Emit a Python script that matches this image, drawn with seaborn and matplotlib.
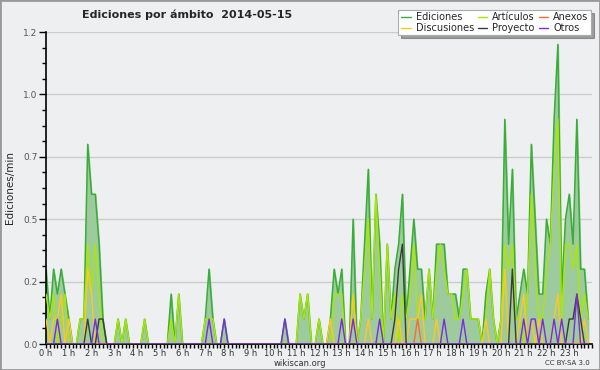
import matplotlib
matplotlib.use("Agg")
import matplotlib.pyplot as plt
import seaborn as sns
from matplotlib.ticker import MultipleLocator
from matplotlib.patches import Rectangle

# ediciones por intervalo de 10 minutos (6 por hora, 144 en total)
ediciones = [3, 1, 3, 2, 3, 2,  1, 0, 0, 1, 1, 8,  6, 6, 4, 1, 0, 0,  0, 1, 0, 1, 0, 0,
             0, 0, 1, 0, 0, 0,  0, 0, 0, 2, 0, 2,  0, 0, 0, 0, 0, 0,  1, 3, 1, 0, 0, 1,
             0, 0, 0, 0, 0, 0,  0, 0, 0, 0, 0, 0,  0, 0, 0, 1, 0, 0,  0, 2, 1, 2, 0, 0,
             1, 0, 0, 1, 3, 2,  3, 0, 0, 5, 0, 1,  4, 7, 1, 6, 4, 0,  4, 1, 3, 4, 6, 1,
             3, 5, 3, 3, 1, 3,  1, 4, 4, 4, 2, 2,  2, 1, 3, 3, 1, 1,  1, 0, 2, 3, 1, 0,
             1, 9, 4, 7, 1, 2,  3, 2, 8, 5, 2, 2,  5, 4, 9, 12, 2, 5,  6, 4, 9, 3, 3, 1]
articulos = [2, 1, 2, 0, 1, 2,  0, 0, 0, 1, 1, 4,  2, 4, 2, 0, 0, 0,  0, 1, 0, 1, 0, 0,
             0, 0, 1, 0, 0, 0,  0, 0, 0, 1, 0, 2,  0, 0, 0, 0, 0, 0,  1, 1, 1, 0, 0, 0,
             0, 0, 0, 0, 0, 0,  0, 0, 0, 0, 0, 0,  0, 0, 0, 0, 0, 0,  0, 2, 1, 2, 0, 0,
             1, 0, 0, 0, 2, 2,  2, 0, 0, 2, 0, 1,  3, 5, 1, 6, 3, 0,  4, 1, 2, 0, 2, 1,
             2, 4, 1, 1, 1, 3,  1, 3, 4, 3, 2, 2,  1, 1, 2, 3, 1, 1,  1, 0, 1, 3, 1, 0,
             1, 4, 3, 4, 1, 1,  0, 2, 6, 3, 1, 1,  3, 4, 7, 9, 1, 4,  4, 3, 4, 1, 2, 1]
anexos = [0] * 98 + [1] + [0] * 45
discusiones = [1, 0, 1, 1, 2, 0,  1, 0, 0, 0, 0, 3,  2, 0, 0, 0, 0, 0,  0, 0, 0, 0, 0, 0,
               0, 0, 0, 0, 0, 0,  0, 0, 0, 0, 0, 0,  0, 0, 0, 0, 0, 0,  0, 0, 0, 0, 0, 0,
               0, 0, 0, 0, 0, 0,  0, 0, 0, 0, 0, 0,  0, 0, 0, 0, 0, 0,  0, 0, 0, 0, 0, 0,
               0, 0, 0, 1, 0, 0,  0, 0, 0, 2, 0, 0,  0, 1, 0, 0, 0, 0,  0, 0, 0, 1, 0, 0,
               1, 1, 1, 2, 0, 0,  0, 1, 0, 0, 0, 0,  0, 0, 0, 0, 0, 0,  0, 0, 1, 0, 0, 0,
               0, 3, 0, 0, 0, 1,  2, 0, 1, 0, 1, 0,  0, 0, 1, 2, 0, 0,  0, 0, 0, 0, 1, 0]
proyecto = [0, 0, 0, 0, 0, 0,  0, 0, 0, 0, 0, 1,  0, 0, 1, 1, 0, 0,  0, 0, 0, 0, 0, 0,
            0, 0, 0, 0, 0, 0,  0, 0, 0, 0, 0, 0,  0, 0, 0, 0, 0, 0,  0, 0, 0, 0, 0, 0,
            0, 0, 0, 0, 0, 0,  0, 0, 0, 0, 0, 0,  0, 0, 0, 0, 0, 0,  0, 0, 0, 0, 0, 0,
            0, 0, 0, 0, 0, 0,  0, 0, 0, 0, 0, 0,  0, 0, 0, 0, 0, 0,  0, 0, 1, 3, 4, 0,
            0, 0, 0, 0, 0, 0,  0, 0, 0, 0, 0, 0,  0, 0, 0, 0, 0, 0,  0, 0, 0, 0, 0, 0,
            0, 0, 0, 3, 0, 0,  0, 0, 0, 0, 0, 0,  0, 0, 0, 0, 0, 0,  1, 1, 2, 1, 0, 0]
otros = [0, 0, 0, 1, 0, 0,  0, 0, 0, 0, 0, 0,  0, 1, 0, 0, 0, 0,  0, 0, 0, 0, 0, 0,
         0, 0, 0, 0, 0, 0,  0, 0, 0, 0, 0, 0,  0, 0, 0, 0, 0, 0,  0, 1, 0, 0, 0, 1,
         0, 0, 0, 0, 0, 0,  0, 0, 0, 0, 0, 0,  0, 0, 0, 1, 0, 0,  0, 0, 0, 0, 0, 0,
         0, 0, 0, 0, 0, 0,  1, 0, 0, 1, 0, 0,  0, 0, 0, 0, 1, 0,  0, 0, 0, 0, 0, 0,
         0, 0, 0, 0, 0, 0,  0, 0, 0, 1, 0, 0,  0, 0, 1, 0, 0, 0,  0, 0, 0, 0, 0, 0,
         0, 0, 0, 0, 0, 0,  1, 0, 1, 1, 0, 1,  0, 0, 1, 0, 1, 0,  0, 0, 2, 0, 0, 0]

horas = [i / 6 for i in range(144)]
hora_labels = [f"{h} h" for h in range(24)]
y_ticks = [0, 0.25, 0.5, 0.75, 1.0, 1.25]
y_labels = ["0.0", "0.2", "0.5", "0.7", "1.0", "1.2"]


def por_min(serie):
    return [v / 10 for v in serie]


bg = "#eeeff1"
sns.set_theme(style="white", rc={"axes.facecolor": bg, "figure.facecolor": bg})
plt.rcParams["font.family"] = ["DejaVu Sans"]

fig = plt.figure(figsize=(6, 3.7), dpi=100)
ax = fig.add_axes([46 / 600, 26 / 370, 546 / 600, 312 / 370])

ax.fill_between(horas, por_min(ediciones), color="#9dcb9d", zorder=1)
series = [
    (articulos, "#aae800", "Artículos"),
    (discusiones, "#ffc81e", "Discusiones"),
    (anexos, "#ff6a2a", "Anexos"),
    (proyecto, "#3a3a3a", "Proyecto"),
    (otros, "#7b2be0", "Otros"),
]
for valores, color, nombre in series:
    sns.lineplot(x=horas, y=por_min(valores), color=color, linewidth=1.0, ax=ax, zorder=3)
sns.lineplot(x=horas, y=por_min(ediciones), color="#38ad38", linewidth=1.1, ax=ax, zorder=2)

ax.set_xlim(0, 24)
ax.set_ylim(0, 1.25)
ax.set_xticks(range(24))
ax.set_xticklabels(hora_labels, fontsize=6, color="#333333")
ax.xaxis.set_minor_locator(MultipleLocator(1 / 6))
ax.set_yticks(y_ticks)
ax.set_yticklabels(y_labels, fontsize=6.5, color="#555555")
ax.yaxis.set_minor_locator(MultipleLocator(0.0625))
ax.tick_params(axis="both", which="both", direction="out", color="black", width=1,
               bottom=True, left=True)
ax.tick_params(axis="x", which="major", length=3, pad=0.5)
ax.tick_params(axis="x", which="minor", length=3)
ax.tick_params(axis="y", which="major", length=5, pad=1)
ax.tick_params(axis="y", which="minor", length=3)
ax.grid(axis="y", color="#cccccc", linewidth=1)
ax.set_axisbelow(True)
for lado in ["top", "right"]:
    ax.spines[lado].set_visible(False)
for lado in ["left", "bottom"]:
    ax.spines[lado].set_color("black")
    ax.spines[lado].set_linewidth(1.2)
ax.set_xlabel("")
ax.set_ylabel("Ediciones/min", fontsize=7.5, labelpad=6)

# leyenda: columnas Ediciones/Discusiones, Artículos/Proyecto, Anexos/Otros
handles = [
    plt.Line2D([], [], color="#38ad38", lw=1), plt.Line2D([], [], color="#ffc81e", lw=1),
    plt.Line2D([], [], color="#aae800", lw=1), plt.Line2D([], [], color="#3a3a3a", lw=1),
    plt.Line2D([], [], color="#ff6a2a", lw=1), plt.Line2D([], [], color="#7b2be0", lw=1),
]
labels = ["Ediciones", "Discusiones", "Artículos", "Proyecto", "Anexos", "Otros"]
leg = fig.legend(handles, labels, loc="upper right", bbox_to_anchor=(591 / 600, 1 - 10 / 370),
                 ncol=3, fontsize=7, frameon=True, fancybox=False, shadow=True,
                 handlelength=1.0, handletextpad=0.5, columnspacing=0.4,
                 labelspacing=0.05, borderpad=0.25, borderaxespad=0)
leg.get_frame().set_edgecolor("#aaaaaa")
leg.get_frame().set_facecolor("white")
leg.get_frame().set_linewidth(0.8)

fig.text(187 / 600, 1 - 15 / 370, "Ediciones por ámbito  2014-05-15",
         ha="center", va="center", fontsize=8, fontweight="bold")
fig.text(300 / 600, 1 - 363 / 370, "wikiscan.org", ha="center", va="center",
         fontsize=6, color="#333333")
fig.text(590 / 600, 1 - 363 / 370, "CC BY-SA 3.0", ha="right", va="center",
         fontsize=5, color="#333333")
fig.patches.append(Rectangle((0, 0), 1, 1, transform=fig.transFigure, fill=False,
                             edgecolor="#999999", linewidth=2))

fig.savefig("out.png", dpi=100, facecolor=bg)
